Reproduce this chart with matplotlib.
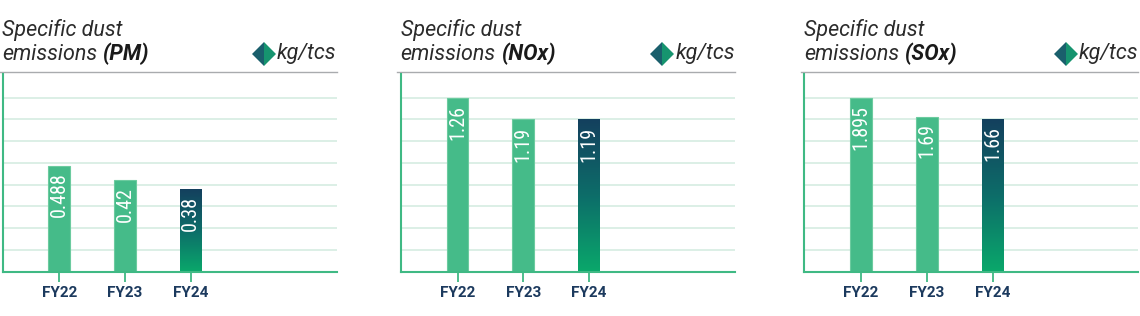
import numpy as np
import matplotlib
matplotlib.use("Agg")
import matplotlib.pyplot as plt
from matplotlib import font_manager
from matplotlib.colors import LinearSegmentedColormap

# data
years = ["FY22", "FY23", "FY24"]
pm_values = [0.488, 0.42, 0.38]
nox_values = [1.26, 1.19, 1.19]
sox_values = [1.895, 1.69, 1.66]
value_labels = [["0.488", "0.42", "0.38"],
                ["1.26", "1.19", "1.19"],
                ["1.895", "1.69", "1.66"]]
pollutants = ["PM", "NOx", "SOx"]
unit = "kg/tcs"

# value scale of each panel: floor and the value sitting on the top grid line
y_floor = [0.0, 0.70, 0.0]
grid_top = [0.8, 1.26, 1.895]

installed = {f.name for f in font_manager.fontManager.ttflist}
main_font = "Roboto" if "Roboto" in installed else "DejaVu Sans"
narrow_font = main_font
for cand in ["Roboto Condensed", "Liberation Sans Narrow"]:
    if cand in installed:
        narrow_font = cand
        break

GREEN = "#45bb89"
GREEN_EDGE = "#6ccb9f"
AXIS_GREEN = "#3fb984"
GRID = "#d9eee4"
NAVY = "#1c3a5e"
TXT = "#2b2b2b"
grad = LinearSegmentedColormap.from_list("fy24", ["#0aa86b", "#0d6d69", "#14405e"])

W, H = 1140, 316
fig = plt.figure(figsize=(W / 100, H / 100), dpi=100)
fig.patch.set_facecolor("white")

lefts = [2.5, 400.7, 804.3]
ax_w = 334.0
base_px = 271.7
top_px = 74.0
gridtop_px = 97.7
ratio = (base_px - top_px) / (base_px - gridtop_px)

all_values = [pm_values, nox_values, sox_values]
x = np.arange(len(years))
bar_w = 0.329

for i in range(3):
    ax = fig.add_axes([lefts[i] / W, (H - base_px) / H, ax_w / W, (base_px - top_px) / H])
    vals = all_values[i]
    lo, gt = y_floor[i], grid_top[i]

    for g in np.linspace(lo, gt, 9)[1:]:
        ax.axhline(g, color=GRID, lw=1.3, zorder=0)

    bars = ax.bar(x, np.array(vals) - lo, bottom=lo, width=bar_w, color=GREEN,
                  edgecolor=GREEN_EDGE, linewidth=0.8, zorder=2)
    # gradient fill for the latest year
    last = bars[-1]
    last.set_facecolor("none")
    last.set_edgecolor("none")
    img = ax.imshow(np.linspace(0, 1, 256).reshape(-1, 1), cmap=grad, origin="lower",
                    extent=[x[-1] - bar_w / 2, x[-1] + bar_w / 2, lo, vals[-1]],
                    aspect="auto", zorder=2)
    img.set_clip_path(last)
    ax.set_xlim(-0.8645, 4.219)
    ax.set_ylim(lo, lo + (gt - lo) * ratio)

    for xi, v, lab in zip(x, vals, value_labels[i]):
        ax.annotate(lab, xy=(xi, v), xytext=(0, -5), textcoords="offset points",
                    rotation=90, ha="center", va="top", color="white",
                    fontsize=14.5, family=narrow_font, zorder=3)

    for s in ["top", "right"]:
        ax.spines[s].set_visible(False)
    ax.spines["left"].set_color(AXIS_GREEN)
    ax.spines["left"].set_linewidth(1.5)
    ax.spines["bottom"].set_color(AXIS_GREEN)
    ax.spines["bottom"].set_linewidth(1.5)
    ax.set_yticks([])
    ax.set_xticks(x)
    ax.set_xticklabels(years, fontsize=11, fontweight="bold", color=NAVY, family=main_font)
    ax.tick_params(axis="x", length=7.2, width=1.3, color=AXIS_GREEN, pad=3.2)
    ax.set_facecolor("none")

    # grey rule under the heading
    ax.plot([-0.01, 1.0], [1.01, 1.01], transform=ax.transAxes, color="#a9abae",
            lw=1.0, clip_on=False)

    ax.text(0, 1.192, "Specific dust", transform=ax.transAxes, ha="left", va="baseline",
            fontsize=15.5, style="italic", color=TXT, family=main_font)
    t1 = ax.text(0, 1.0708, "emissions", transform=ax.transAxes, ha="left", va="baseline",
                 fontsize=15.5, style="italic", color=TXT, family=main_font)
    ax.annotate("(" + pollutants[i] + ")", xy=(1, 0), xycoords=t1, xytext=(3.5, 0),
                textcoords="offset points", ha="left", va="bottom",
                fontsize=15.5, style="italic", fontweight="bold", color="#1a1a1a",
                family=main_font)
    ut = ax.text(1.0, 1.078, unit, transform=ax.transAxes, ha="right", va="baseline",
                 fontsize=15.5, style="italic", color=TXT, family=main_font)

    fig.canvas.draw()
    bb = ut.get_window_extent(fig.canvas.get_renderer())
    dx, dy = ax.transAxes.inverted().transform((bb.x0 - 13, (bb.y0 + bb.y1) / 2 - 0.5))
    ax.plot(dx, dy, transform=ax.transAxes, marker="D", markersize=12.5,
            fillstyle="left", markerfacecolor="#1a5f6c", markerfacecoloralt="#16946f",
            markeredgewidth=0, clip_on=False)

fig.savefig("out.png", dpi=100, facecolor="white")
